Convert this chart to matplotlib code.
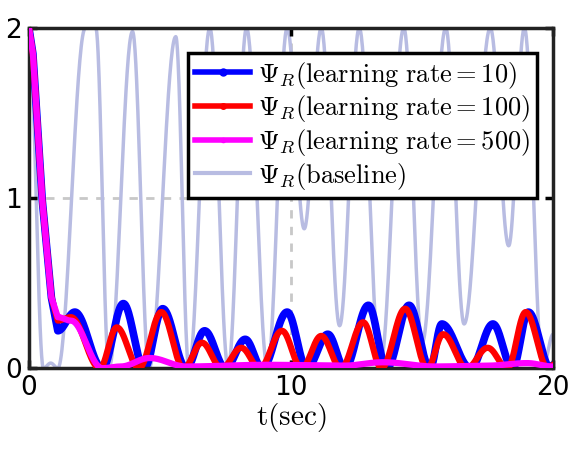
import numpy as np
import matplotlib
matplotlib.use("Agg")
import matplotlib.pyplot as plt
from matplotlib.lines import Line2D

plt.rcParams['mathtext.fontset'] = 'cm'

# Key points (t, value)
base_t = [0, 0.55, 0.83, 1.1, 2.15, 2.55, 3.05, 3.95, 4.58, 5.6, 6.1, 6.9, 7.6, 8.3, 9.1, 9.85,
          10.5, 11.15, 11.85, 12.6, 13.4, 14.3, 15.0, 15.9, 16.6, 17.6, 18.3, 18.9, 19.6, 20.0]
base_v = [2, 0, 0.03, 0, 2, 2, 0, 1.98, 0, 1.95, 0, 2, 0, 2, 0, 2,
          0.82, 2, 0.25, 2, 0.02, 2, 0.15, 2, 0.26, 2, 0.72, 2, 0.0, 0.2]

lr10_t = [0, 0.15, 0.5, 0.85, 1.1, 1.75, 2.8, 3.6, 4.4, 5.1, 6.0, 6.7, 7.5, 8.25, 8.9, 9.85,
          10.6, 11.4, 12.05, 12.95, 13.65, 14.5, 15.3, 15.75, 16.85, 17.7, 18.45, 19.05, 19.9, 20.0]
lr10_v = [2, 1.85, 1.0, 0.42, 0.22, 0.33, 0, 0.38, 0, 0.35, 0, 0.22, 0, 0.17, 0, 0.33,
          0, 0.2, 0, 0.37, 0, 0.37, 0, 0.26, 0, 0.26, 0, 0.33, 0, 0.02]

lr100_t = [0, 0.15, 0.5, 0.85, 1.1, 1.6, 2.7, 3.35, 4.2, 5.05, 5.9, 6.6, 7.35, 8.1, 8.8, 9.65,
           10.4, 11.15, 11.9, 12.75, 13.45, 14.35, 15.2, 15.8, 16.7, 17.5, 18.25, 18.95, 19.8, 20.0]
lr100_v = [2, 1.85, 1.0, 0.42, 0.28, 0.3, 0, 0.24, 0, 0.33, 0, 0.15, 0, 0.12, 0, 0.22,
           0, 0.19, 0, 0.27, 0, 0.35, 0, 0.2, 0, 0.12, 0, 0.33, 0, 0.02]

lr500_t = [0, 0.15, 0.5, 0.85, 1.1, 1.6, 2.8, 3.5, 4.6, 6.0, 9.0, 12.0, 13.5, 15.5, 17.5, 19.0, 20.0]
lr500_v = [2, 1.85, 1.0, 0.42, 0.3, 0.28, 0.0, 0.01, 0.06, 0.01, 0.02, 0.015, 0.035, 0.01, 0.015, 0.03, 0.01]

x_ticks = [0, 10, 20]
y_ticks = [0, 1, 2]


def smooth(ts, vs, n=40, linear_first=0):
    xs, ys = [], []
    for i in range(len(ts) - 1):
        s = np.linspace(0, 1, n, endpoint=False)
        w = s if i < linear_first else (1 - np.cos(np.pi * s)) / 2
        xs.append(ts[i] + (ts[i + 1] - ts[i]) * s)
        ys.append(vs[i] + (vs[i + 1] - vs[i]) * w)
    xs.append([ts[-1]]); ys.append([vs[-1]])
    return np.concatenate(xs), np.concatenate(ys)


fig = plt.figure(figsize=(5.68, 4.54), dpi=100)
ax = fig.add_axes([0.051, 0.189, 0.923, 0.749])

grid_c = '#c8c8c8'
ax.axhline(1, color=grid_c, ls=(0, (3, 3)), lw=2, zorder=0)
ax.axvline(10, color=grid_c, ls=(0, (3, 3)), lw=2, zorder=0)

base_c = '#b8bce2'
ax.plot(*smooth(base_t, base_v), color=base_c, lw=2.5, zorder=1)
ax.plot(*smooth(lr10_t, lr10_v, linear_first=4), color='#0000ff', lw=5.5, zorder=2)
ax.plot(*smooth(lr100_t, lr100_v, linear_first=4), color='#ff0000', lw=4.5, zorder=3)
ax.plot(*smooth(lr500_t, lr500_v, linear_first=4), color='#ff00ff', lw=4.5, zorder=4)

ax.set_xlim(0, 20)
ax.set_ylim(0, 2)
ax.set_xticks(x_ticks)
ax.set_yticks(y_ticks)
ax.tick_params(direction='in', length=6, width=2.5, labelsize=19, top=True, right=True, pad=5)
for sp in ax.spines.values():
    sp.set_linewidth(2.5)
    sp.set_color('#222222')
ax.set_xlabel(r'$\mathrm{t(sec)}$', fontsize=21, labelpad=0)

handles = [
    Line2D([0, 0.5, 1], [0, 0, 0], color='#0000ff', lw=4, marker='o', markersize=5, markevery=[1]),
    Line2D([0, 0.5, 1], [0, 0, 0], color='#ff0000', lw=4, marker='o', markersize=4, markevery=[1]),
    Line2D([0, 0.5, 1], [0, 0, 0], color='#ff00ff', lw=4, marker='o', markersize=3, markevery=[1]),
    Line2D([], [], color=base_c, lw=3),
]
labels = [r'$\Psi_R(\mathrm{learning\ rate} = 10)$',
          r'$\Psi_R(\mathrm{learning\ rate} = 100)$',
          r'$\Psi_R(\mathrm{learning\ rate} = 500)$',
          r'$\Psi_R(\mathrm{baseline})$']
leg = ax.legend(handles, labels, loc='upper right', bbox_to_anchor=(537 / 568, 1 - 53 / 454),
                bbox_transform=fig.transFigure, fontsize=19, fancybox=False, framealpha=1,
                edgecolor='black', handlelength=2.1, handletextpad=0.3, borderpad=0.25,
                labelspacing=0.1, borderaxespad=0)
leg.get_frame().set_linewidth(2.5)
leg.set_zorder(10)

fig.savefig('out.png', dpi=100)
